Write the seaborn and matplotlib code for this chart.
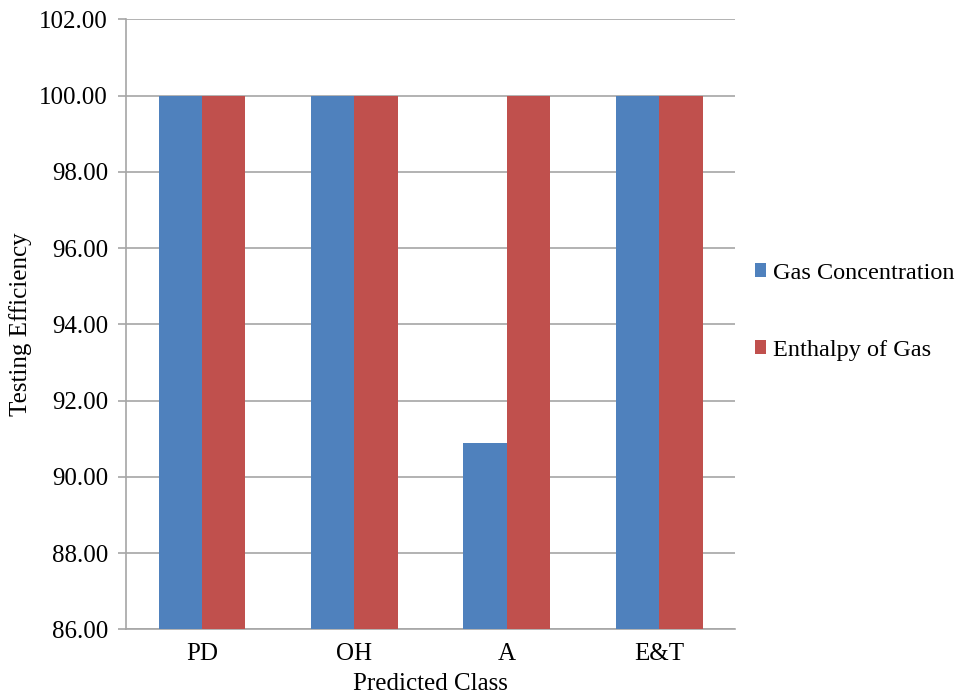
import matplotlib
matplotlib.use("Agg")
import matplotlib.pyplot as plt
import seaborn as sns
import pandas as pd
from matplotlib.ticker import FormatStrFormatter
from matplotlib.patches import Patch

categories = ["PD", "OH", "A", "E&T"]
gas_concentration = [100.0, 100.0, 90.89, 100.0]
enthalpy_of_gas = [100.0, 100.0, 100.0, 100.0]
series_names = ["Gas Concentration", "Enthalpy of Gas"]
colors = ["#4F81BD", "#C0504D"]

df = pd.DataFrame({
    "Predicted Class": categories * 2,
    "value": gas_concentration + enthalpy_of_gas,
    "series": [series_names[0]] * 4 + [series_names[1]] * 4,
})

sns.set_style("white")
plt.rcParams["font.family"] = ["Liberation Serif", "DejaVu Serif"]
plt.rcParams["text.color"] = "black"
plt.rcParams["axes.labelcolor"] = "black"
plt.rcParams["xtick.color"] = "black"
plt.rcParams["ytick.color"] = "black"

fig = plt.figure(figsize=(9.6, 6.95), dpi=100)
ax = fig.add_axes([0.131, 0.0945, 0.635, 0.8775])

sns.barplot(data=df, x="Predicted Class", y="value", hue="series",
            palette=colors, width=0.57, ax=ax, legend=False,
            saturation=1, linewidth=0, zorder=3)

ax.set_ylim(86, 102)
ax.set_yticks(range(86, 103, 2))
ax.yaxis.set_major_formatter(FormatStrFormatter("%.2f"))
ax.set_xlim(-0.5, 3.5)
ax.yaxis.grid(True, color="#A6A6A6", linewidth=1.2, zorder=0)
ax.set_axisbelow(True)

for s in ["top", "right"]:
    ax.spines[s].set_visible(False)
for s in ["left", "bottom"]:
    ax.spines[s].set_color("#A6A6A6")
    ax.spines[s].set_linewidth(1.2)

ax.tick_params(axis="y", length=5.8, width=1.2, color="#A6A6A6", labelcolor="black",
               labelsize=18, pad=7, left=True)
ax.tick_params(axis="x", length=0, labelsize=18, labelcolor="black", pad=10)

ax.set_ylabel("Testing Efficiency", fontsize=18, labelpad=5.5)
ax.set_xlabel("Predicted Class", fontsize=18, labelpad=5.5)

handles = [Patch(facecolor=c, edgecolor="none") for c in colors]
ax.legend(handles, series_names, loc="center left", bbox_to_anchor=(1.0, 0.521),
          frameon=False, fontsize=17.5, labelspacing=2.3, handlelength=0.45,
          handleheight=0.48, handletextpad=0.3, borderaxespad=0.4)

fig.savefig("out.png", dpi=100)
